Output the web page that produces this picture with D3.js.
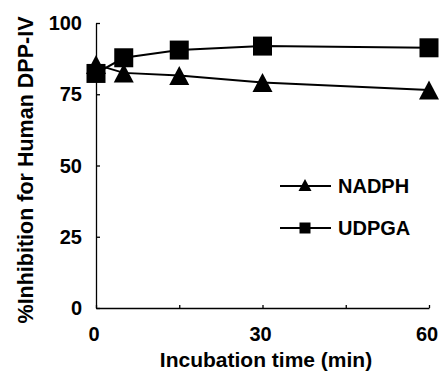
<!DOCTYPE html>
<html>
<head>
<meta charset="utf-8">
<script src="https://cdn.jsdelivr.net/npm/d3@7"></script>
<style>
  body { margin: 0; background: #fff; }
  text { font-family: "Liberation Sans", Arial, sans-serif; font-weight: bold; fill: #000; }
</style>
</head>
<body>
<svg id="chart" width="440" height="373"></svg>
<script>
// data
var times = [0, 5, 15, 30, 60];
var nadph = [85.4, 82.5, 81.6, 79.1, 76.5];
var udpga = [82.3, 87.8, 90.5, 91.9, 91.3];
var xTicks = [0, 15, 30, 45, 60];
var xTickLabels = [0, 30, 60];
var yTicks = [0, 25, 50, 75, 100];

var svg = d3.select("#chart");

// scales
var x = d3.scaleLinear().domain([0, 60]).range([96, 429]);
var y = d3.scaleLinear().domain([0, 100]).range([308, 23]);

// axes (ticks point inwards)
svg.append("g").attr("transform", "translate(" + x(0) + ",0)")
  .call(d3.axisLeft(y).tickValues(yTicks).tickSizeInner(-4).tickSizeOuter(0).tickFormat(""));
svg.append("g").attr("transform", "translate(0," + y(0) + ")")
  .call(d3.axisBottom(x).tickValues(xTicks).tickSizeInner(-3).tickSizeOuter(0).tickFormat(""));
svg.selectAll(".domain, .tick line").attr("stroke", "#000").attr("stroke-width", 1.3);

// tick labels
svg.append("g").selectAll("text").data(yTicks).join("text")
  .attr("x", 82).attr("y", function (d) { return y(d); })
  .attr("dy", "0.36em").attr("text-anchor", "end")
  .attr("font-size", "20px").text(function (d) { return d; });

svg.append("g").selectAll("text").data(xTickLabels).join("text")
  .attr("x", function (d) { return x(d) - 2; }).attr("y", 341)
  .attr("text-anchor", "middle")
  .attr("font-size", "20px").text(function (d) { return d; });

// axis titles
svg.append("text").attr("x", 266).attr("y", 367).attr("text-anchor", "middle")
  .attr("font-size", "21px").text("Incubation time (min)");
svg.append("text").attr("transform", "translate(33,170) rotate(-90)")
  .attr("text-anchor", "middle").attr("font-size", "21.5px")
  .text("%Inhibition for Human DPP-IV");

// marker shapes
function triangle(cx, cy, w, h) {
  return "M" + cx + "," + (cy - h / 2) + "L" + (cx + w / 2) + "," + (cy + h / 2) +
    "L" + (cx - w / 2) + "," + (cy + h / 2) + "Z";
}
function square(cx, cy, s) {
  return "M" + (cx - s / 2) + "," + (cy - s / 2) + "h" + s + "v" + s + "h" + (-s) + "Z";
}

var line = d3.line().x(function (d) { return x(d[0]); }).y(function (d) { return y(d[1]); });

function drawSeries(values, shape) {
  var pts = times.map(function (t, i) { return [t, values[i]]; });
  var g = svg.append("g");
  g.append("path").attr("d", line(pts)).attr("fill", "none")
    .attr("stroke", "#000").attr("stroke-width", 2);
  g.selectAll("path.m").data(pts).join("path").attr("class", "m")
    .attr("d", function (d) {
      return shape === "tri" ? triangle(x(d[0]), y(d[1]), 20, 19) : square(x(d[0]), y(d[1]), 19);
    })
    .attr("fill", "#000");
}

drawSeries(nadph, "tri");
drawSeries(udpga, "sq");

// legend
var legend = [
  { name: "NADPH", shape: "tri", y: 186 },
  { name: "UDPGA", shape: "sq", y: 228 }
];
legend.forEach(function (l) {
  svg.append("line").attr("x1", 280).attr("x2", 331).attr("y1", l.y).attr("y2", l.y)
    .attr("stroke", "#000").attr("stroke-width", 2);
  svg.append("path").attr("fill", "#000")
    .attr("d", l.shape === "tri" ? triangle(305, l.y - 1, 13, 12) : square(305, l.y, 11));
  svg.append("text").attr("x", 338).attr("y", l.y).attr("dy", "0.36em")
    .attr("font-size", "20px").text(l.name);
});
</script>
</body>
</html>
